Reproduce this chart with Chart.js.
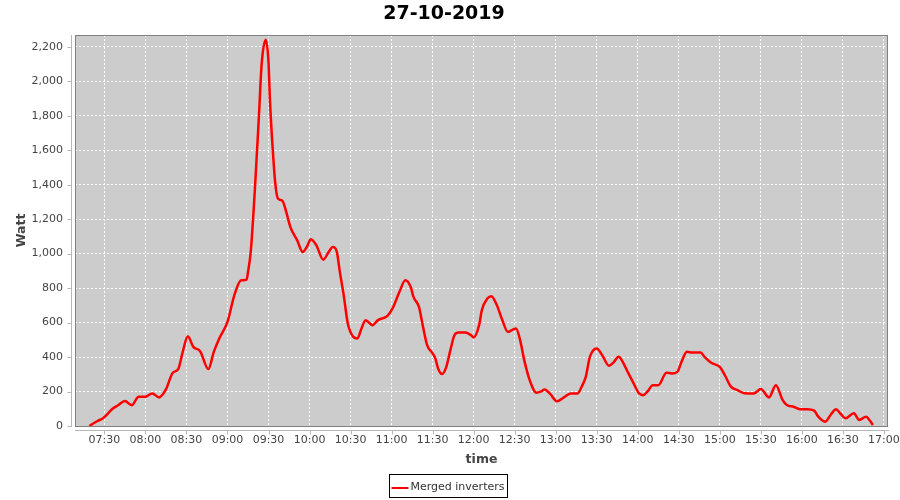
<!DOCTYPE html>
<html>
<head>
<meta charset="utf-8">
<script src="https://cdn.jsdelivr.net/npm/chart.js@4.4.0/dist/chart.umd.min.js"></script>
<style>
html,body{margin:0;padding:0;background:#ffffff;}
#wrap{width:900px;height:500px;}
</style>
</head>
<body>
<div id="wrap"><canvas id="c" width="900" height="500"></canvas></div>
<script>
// ---- data ----
const chartTitle = "27-10-2019";
const seriesLabel = "Merged inverters";
const xAxisTitle = "time";
const yAxisTitle = "Watt";

const times = ["07:19","07:25","07:29","07:36","07:40","07:45","07:50","07:55","08:00","08:05",
"08:10","08:15","08:20","08:24","08:27","08:31","08:35","08:40","08:46","08:50",
"08:54","09:00","09:05","09:10","09:14","09:15","09:17","09:20","09:23","09:25",
"09:28","09:30","09:31","09:33","09:35","09:37","09:40","09:43","09:46","09:51",
"09:55","09:58","10:01","10:05","10:10","10:14","10:17","10:20","10:22","10:25",
"10:28","10:32","10:35","10:38","10:41","10:46","10:50","10:57","11:01","11:06",
"11:10","11:14","11:16","11:20","11:23","11:26","11:30","11:32","11:34","11:37",
"11:40","11:43","11:46","11:49","11:54","11:58","12:00","12:04","12:06","12:10",
"12:13","12:17","12:21","12:25","12:28","12:31","12:34","12:37","12:41","12:46",
"12:49","12:52","12:56","13:01","13:06","13:11","13:16","13:19","13:22","13:25",
"13:30","13:34","13:39","13:42","13:46","13:49","13:52","13:57","14:01","14:04",
"14:07","14:11","14:15","14:21","14:25","14:29","14:32","14:36","14:40","14:46",
"14:49","14:54","15:00","15:04","15:08","15:13","15:18","15:25","15:30","15:36",
"15:41","15:46","15:49","15:54","15:59","16:04","16:09","16:12","16:17","16:21",
"16:25","16:28","16:32","16:38","16:42","16:47","16:49","16:52"];

const watts = [0,29,45,100,120,145,120,170,170,189,
166,212,309,330,421,521,459,434,330,430,
508,604,758,845,849,893,1010,1366,1800,2100,
2240,2110,1900,1617,1405,1318,1308,1241,1154,1077,
1009,1038,1083,1048,965,1009,1038,1009,903,758,
594,517,508,566,614,585,614,639,687,783,
845,806,749,691,575,469,421,392,334,301,
343,440,527,542,542,527,514,585,672,739,
753,700,614,546,556,566,498,382,266,193,
199,212,186,143,166,189,189,228,285,401,
450,411,349,366,401,372,324,247,189,179,
199,237,236,309,305,314,372,430,426,426,
399,365,343,290,230,208,190,189,214,166,
237,150,122,112,97,97,89,54,25,64,
97,74,45,74,35,54,39,6];

const xTickLabels = ["07:30","08:00","08:30","09:00","09:30","10:00","10:30","11:00","11:30","12:00",
"12:30","13:00","13:30","14:00","14:30","15:00","15:30","16:00","16:30","17:00"];
const yTickValues = [0,200,400,600,800,1000,1200,1400,1600,1800,2000,2200];
const xAxisBounds = [428.5, 1023];   // minutes after midnight (07:08.5 .. 17:03)
const yAxisBounds = [0, 2268];

// ---- helpers ----
const toMin = s => { const p = s.split(":"); return (+p[0]) * 60 + (+p[1]); };
const fmtMin = m => { const h = Math.floor(m / 60), mm = Math.round(m - h * 60);
  return String(h).padStart(2, "0") + ":" + String(mm).padStart(2, "0"); };
const points = times.map((t, i) => ({ x: toMin(t), y: watts[i] }));
const xTickValues = xTickLabels.map(toMin);

const FONT = '"DejaVu Sans", Verdana, sans-serif';

const jfreeStyle = {
  id: "jfreeStyle",
  beforeDraw(chart) {
    const { ctx, chartArea: a } = chart;
    ctx.save();
    ctx.fillStyle = "#cccccc";
    ctx.fillRect(a.left, a.top, a.right - a.left, a.bottom - a.top);
    ctx.restore();
  },
  afterDraw(chart) {
    const { ctx, chartArea: a, scales } = chart;
    ctx.save();
    // plot outline
    ctx.strokeStyle = "#808080";
    ctx.lineWidth = 1;
    ctx.strokeRect(a.left + 0.5, a.top + 0.5, a.right - a.left - 1, a.bottom - a.top);
    // offset axis lines and tick marks
    ctx.strokeStyle = "#b8b8b8";
    const ax = a.left - 3.5;
    ctx.beginPath();
    ctx.moveTo(ax, a.top); ctx.lineTo(ax, a.bottom + 1);
    scales.y.ticks.forEach(t => {
      const py = Math.round(scales.y.getPixelForValue(t.value)) + 0.5;
      ctx.moveTo(ax - 4, py); ctx.lineTo(ax, py);
    });
    const ay = a.bottom + 4.5;
    ctx.moveTo(a.left, ay); ctx.lineTo(a.right + 1, ay);
    scales.x.ticks.forEach(t => {
      const px = Math.round(scales.x.getPixelForValue(t.value)) + 0.5;
      ctx.moveTo(px, ay); ctx.lineTo(px, ay + 4);
    });
    ctx.stroke();

    // legend
    const ds = chart.data.datasets[0];
    ctx.font = "11px " + FONT;
    const tw = ctx.measureText(ds.label).width;
    const W = Math.round(2 + 17 + 2 + tw + 3);
    const H = 23;
    const bx = Math.round(448 - W / 2) + 0.5;
    const by = 474.5;
    ctx.strokeStyle = "#000000";
    ctx.lineWidth = 1;
    ctx.strokeRect(bx, by, W, H);
    ctx.strokeStyle = ds.borderColor;
    ctx.lineWidth = 2;
    ctx.beginPath();
    ctx.moveTo(bx + 2, by + 13.5); ctx.lineTo(bx + 19, by + 13.5);
    ctx.stroke();
    ctx.fillStyle = "#333333";
    ctx.textBaseline = "middle";
    ctx.textAlign = "left";
    ctx.fillText(ds.label, bx + 21, by + 12.5);
    ctx.restore();
  }
};

new Chart(document.getElementById("c"), {
  type: "line",
  data: {
    datasets: [{
      label: seriesLabel,
      data: points,
      borderColor: "#ff0000",
      backgroundColor: "#ff0000",
      borderWidth: 2.5,
      pointRadius: 0,
      fill: false,
      cubicInterpolationMode: "monotone"
    }]
  },
  options: {
    responsive: false,
    animation: false,
    layout: { padding: { left: 0, right: 12, top: 0, bottom: 30 } },
    plugins: {
      legend: { display: false },
      tooltip: { enabled: false },
      title: {
        display: true,
        text: chartTitle,
        color: "#000000",
        font: { family: FONT, size: 19, weight: "bold", lineHeight: 1.2 },
        padding: { top: 3, bottom: 9.2 }
      }
    },
    scales: {
      x: {
        type: "linear",
        min: xAxisBounds[0],
        max: xAxisBounds[1],
        afterBuildTicks: s => { s.ticks = xTickValues.map(v => ({ value: v })); },
        afterFit: s => { s.height = 44; s.paddingLeft = 0; s.paddingRight = 0; },
        ticks: {
          autoSkip: false, maxRotation: 0, minRotation: 0,
          padding: 8,
          color: "#444444",
          font: { family: FONT, size: 11 },
          callback: v => fmtMin(v)
        },
        grid: { color: "#ffffff", lineWidth: 1, drawTicks: false },
        border: { display: false, dash: [2, 2] },
        title: {
          display: true, text: xAxisTitle, color: "#444444",
          font: { family: FONT, size: 12.5, weight: "bold", lineHeight: 1.2 },
          padding: { top: 0, bottom: 3 }
        }
      },
      y: {
        type: "linear",
        min: yAxisBounds[0],
        max: yAxisBounds[1],
        afterBuildTicks: s => { s.ticks = yTickValues.map(v => ({ value: v })); },
        afterFit: s => { s.width = 75; s.paddingTop = 0; s.paddingBottom = 0; },
        ticks: {
          padding: 12,
          color: "#444444",
          font: { family: FONT, size: 11 },
          callback: v => Number(v).toLocaleString("en-US")
        },
        grid: { color: "#ffffff", lineWidth: 1, drawTicks: false },
        border: { display: false, dash: [2, 2] },
        title: {
          display: true, text: yAxisTitle, color: "#444444",
          font: { family: FONT, size: 12.5, weight: "bold", lineHeight: 1.2 },
          padding: { top: 14, bottom: 0 }
        }
      }
    }
  },
  plugins: [jfreeStyle]
});
</script>
</body>
</html>
